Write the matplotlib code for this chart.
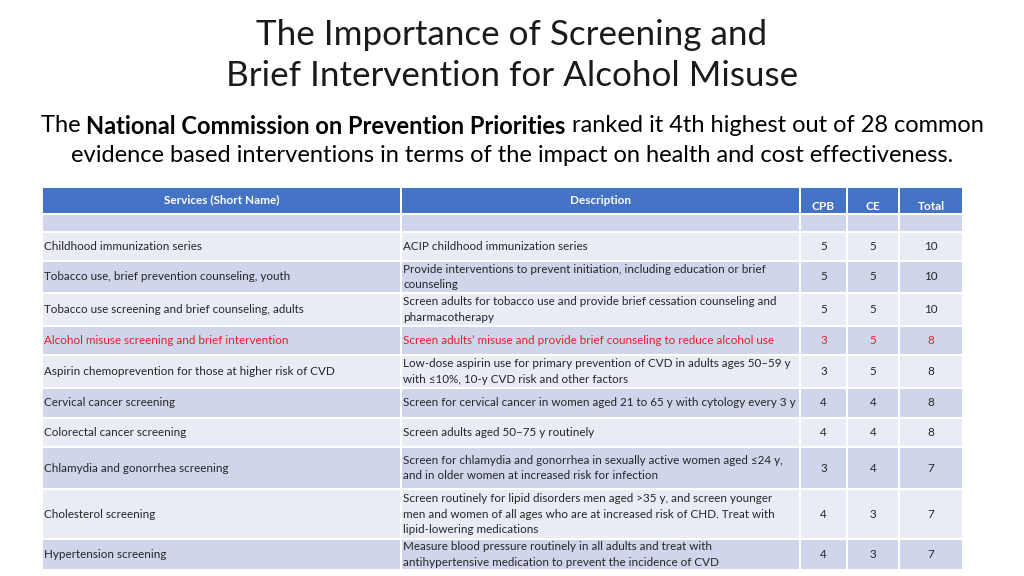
import matplotlib.pyplot as plt
from matplotlib.patches import Rectangle

# table content
services = [
    "Childhood immunization series",
    "Tobacco use, brief prevention counseling, youth",
    "Tobacco use screening and brief counseling, adults",
    "Alcohol misuse screening and brief intervention",
    "Aspirin chemoprevention for those at higher risk of CVD",
    "Cervical cancer screening",
    "Colorectal cancer screening",
    "Chlamydia and gonorrhea screening",
    "Cholesterol screening",
    "Hypertension screening",
]
descriptions = [
    "ACIP childhood immunization series",
    "Provide interventions to prevent initiation, including education or brief\ncounseling",
    "Screen adults for tobacco use and provide brief cessation counseling and\npharmacotherapy",
    "Screen adults\u2019 misuse and provide brief counseling to reduce alcohol use",
    "Low-dose aspirin use for primary prevention of CVD in adults ages 50\u201359 y\nwith \u226410%, 10-y CVD risk and other factors",
    "Screen for cervical cancer in women aged 21 to 65 y with cytology every 3 y",
    "Screen adults aged 50\u201375 y routinely",
    "Screen for chlamydia and gonorrhea in sexually active women aged \u226424 y,\nand in older women at increased risk for infection",
    "Screen routinely for lipid disorders men aged >35 y, and screen younger\nmen and women of all ages who are at increased risk of CHD. Treat with\nlipid-lowering medications",
    "Measure blood pressure routinely in all adults and treat with\nantihypertensive medication to prevent the incidence of CVD",
]
cpb = [5, 5, 5, 3, 3, 4, 4, 3, 4, 4]
ce = [5, 5, 5, 5, 5, 4, 4, 4, 3, 3]
total = [10, 10, 10, 8, 8, 8, 8, 7, 7, 7]
headers = ["Services (Short Name)", "Description", "CPB", "CE", "Total"]
highlight = 3  # alcohol row

# layout in pixels
col_x = [42, 401, 800, 847, 899, 963]
row_y = [232, 261, 293, 326, 355, 388, 418, 447, 489, 539, 570]
head_top, head_bot = 187, 213
blank_top, blank_bot = 214, 232

BLUE = "#4472C4"
DARK = "#CFD5EA"
LIGHT = "#E9EBF5"
RED = "#EE1C25"
TXT = "#262626"
FS = 8.4

plt.rcParams['font.family'] = ['Lato', 'DejaVu Sans']

fig = plt.figure(figsize=(10.24, 5.76), dpi=100)
ax = fig.add_axes([0, 0, 1, 1])
ax.set_xlim(0, 1024)
ax.set_ylim(576, 0)
ax.axis('off')

# title
ax.text(512, 35, "The Importance of Screening and", ha='center', va='center',
        fontsize=25.2, color='#1a1a1a')
ax.text(512, 76, "Brief Intervention for Alcohol Misuse", ha='center', va='center',
        fontsize=25.2, color='#1a1a1a')

# subtitle line with bold part
fig.canvas.draw()
rend = fig.canvas.get_renderer()
parts = [("The ", 'normal'), ("National Commission on Prevention Priorities", 'bold'),
         (" ranked it 4th highest out of 28 common", 'normal')]
objs = []
for s, w in parts:
    t = ax.text(0, 126, s, ha='left', va='center', fontsize=17, fontweight=w)
    objs.append(t)
widths = [t.get_window_extent(rend).width for t in objs]
x = 512 - sum(widths) / 2
for t, w in zip(objs, widths):
    t.set_x(x)
    x += w
ax.text(512, 156, "evidence based interventions in terms of the impact on health and cost effectiveness.",
        ha='center', va='center', fontsize=17)

gap = 1.0
def cell(x0, x1, y0, y1, color):
    ax.add_patch(Rectangle((x0 + gap, y0 + gap), x1 - x0 - 2 * gap, y1 - y0 - 2 * gap,
                           facecolor=color, edgecolor='none'))

# header
for i in range(5):
    cell(col_x[i], col_x[i + 1], head_top, head_bot + 1, BLUE)
    hy = 200 if i < 2 else 206
    ax.text((col_x[i] + col_x[i + 1]) / 2, hy, headers[i], ha='center', va='center',
            fontsize=8.5, fontweight='bold', color='white')

# blank row
for i in range(5):
    cell(col_x[i], col_x[i + 1], blank_top, blank_bot, DARK)

for r in range(len(services)):
    y0, y1 = row_y[r], row_y[r + 1]
    bg = LIGHT if r % 2 == 0 else DARK
    for i in range(5):
        cell(col_x[i], col_x[i + 1], y0, y1, bg)
    yc = (y0 + y1) / 2
    c = RED if r == highlight else TXT
    ax.text(col_x[0] + 2, yc, services[r], ha='left', va='center', fontsize=FS, color=c)
    ax.text(col_x[1] + 2, yc, descriptions[r], ha='left', va='center', fontsize=FS,
            color=c, linespacing=1.5)
    vals = [cpb[r], ce[r], total[r]]
    for k in range(3):
        ax.text((col_x[2 + k] + col_x[3 + k]) / 2, yc, str(vals[k]), ha='center',
                va='center', fontsize=FS, color=c)

fig.savefig("out.png", dpi=100, facecolor='white')
